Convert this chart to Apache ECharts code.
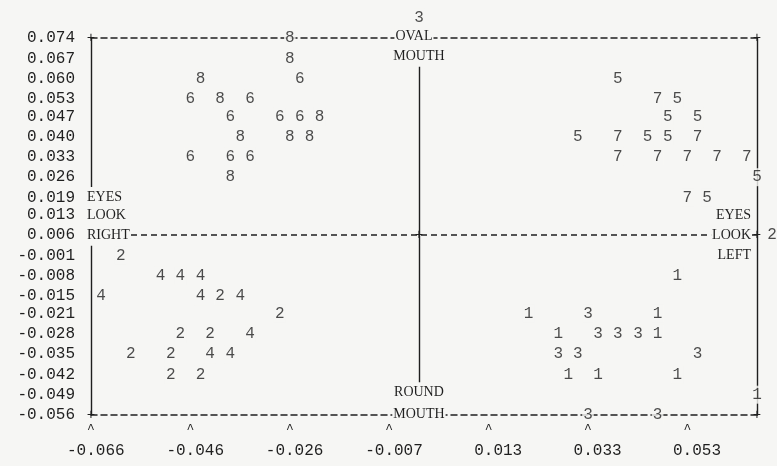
<!DOCTYPE html>
<html>
<head>
<meta charset="utf-8">
<script src="https://cdn.jsdelivr.net/npm/echarts@6/dist/echarts.min.js"></script>
<style>
  html, body { margin: 0; padding: 0; background: #f6f6f4; }
  #chart { width: 777px; height: 466px; }
</style>
</head>
<body>
<div id="chart"></div>
<script>
// ---- axis ticks ----
const xTickValues = [-0.066, -0.0463, -0.0266, -0.0069, 0.0128, 0.0325, 0.0522];
const xTickLabels = ['-0.066', '-0.046', '-0.026', '-0.007', '0.013', '0.033', '0.053'];
const yTickLabels = ['0.074', '0.067', '0.060', '0.053', '0.047', '0.040', '0.033', '0.026', '0.019', '0.013',
                     '0.006', '-0.001', '-0.008', '-0.015', '-0.021', '-0.028', '-0.035', '-0.042', '-0.049', '-0.056'];
const xMin = -0.066, xMax = 0.066;
const yMin = -0.056, yMax = 0.074;

// ---- plotted groups (symbol = group digit) ----
const group1 = [[0.0502, -0.008], [0.0207, -0.021], [0.0463, -0.021], [0.0266, -0.028], [0.0463, -0.028],
                [0.0286, -0.042], [0.0345, -0.042], [0.0502, -0.042], [0.0660, -0.049]];
const group2 = [[-0.0601, -0.001], [-0.0404, -0.015], [-0.0286, -0.021], [-0.0483, -0.028], [-0.0424, -0.028],
                [-0.0581, -0.035], [-0.0502, -0.035], [-0.0502, -0.042], [-0.0443, -0.042], [0.0690, 0.006]];
const group3 = [[-0.0010, 0.081], [0.0325, -0.021], [0.0345, -0.028], [0.0384, -0.028], [0.0424, -0.028],
                [0.0266, -0.035], [0.0305, -0.035], [0.0542, -0.035], [0.0325, -0.056], [0.0463, -0.056]];
const group4 = [[-0.0522, -0.008], [-0.0483, -0.008], [-0.0443, -0.008], [-0.0640, -0.015], [-0.0443, -0.015],
                [-0.0364, -0.015], [-0.0345, -0.028], [-0.0424, -0.035], [-0.0384, -0.035]];
const group5 = [[0.0384, 0.060], [0.0502, 0.053], [0.0483, 0.047], [0.0542, 0.047], [0.0305, 0.040],
                [0.0443, 0.040], [0.0483, 0.040], [0.0660, 0.026], [0.0561, 0.019]];
const group6 = [[-0.0246, 0.060], [-0.0463, 0.053], [-0.0345, 0.053], [-0.0384, 0.047], [-0.0286, 0.047],
                [-0.0246, 0.047], [-0.0463, 0.033], [-0.0384, 0.033], [-0.0345, 0.033]];
const group7 = [[0.0463, 0.053], [0.0384, 0.040], [0.0542, 0.040], [0.0384, 0.033], [0.0463, 0.033],
                [0.0522, 0.033], [0.0581, 0.033], [0.0640, 0.033], [0.0522, 0.019]];
const group8 = [[-0.0266, 0.074], [-0.0266, 0.067], [-0.0443, 0.060], [-0.0404, 0.053], [-0.0207, 0.047],
                [-0.0364, 0.040], [-0.0266, 0.040], [-0.0227, 0.040], [-0.0384, 0.026]];
const groups = [['1', group1], ['2', group2], ['3', group3], ['4', group4],
                ['5', group5], ['6', group6], ['7', group7], ['8', group8]];

// reference lines
const hRef = 0.006;
const vRef = -0.001;

const ink = '#1f1f1f';
const bg = '#f6f6f4';
const mono = 'Liberation Mono';
const serif = 'Liberation Serif';

function padLabel(s) {
  const L = s.indexOf('.');
  const R = s.length - L - 1;
  return ' '.repeat(Math.max(0, R - L)) + s;
}
function nearestIdx(arr, v) {
  let best = 0, bd = Infinity;
  arr.forEach((a, i) => { const d = Math.abs(a - v); if (d < bd) { bd = d; best = i; } });
  return best;
}

const digitSeries = groups.map(([name, data]) => ({
  type: 'scatter',
  name: name,
  data: data,
  symbol: 'circle',
  symbolSize: 1,
  clip: false,
  silent: true,
  z: 5,
  itemStyle: { color: 'rgba(0,0,0,0)' },
  emphasis: { disabled: true },
  label: {
    show: true, position: 'inside', formatter: name,
    fontFamily: mono, fontSize: 16, color: ink,
    backgroundColor: bg, padding: [1, 1], lineHeight: 16
  }
}));

const serifLabel = { show: true, fontFamily: serif, fontSize: 14, color: ink, backgroundColor: bg,
                     padding: [4, 1], lineHeight: 13, formatter: p => p.name };

const annotations = [
  { name: 'EYES', coord: [xMin, 0.019], label: { position: 'right', distance: -5 } },
  { name: 'LOOK', coord: [xMin, 0.013], label: { position: 'right', distance: -5 } },
  { name: 'RIGHT', coord: [xMin, 0.006], label: { position: 'right', distance: -5 } },
  { name: 'EYES', coord: [xMax, 0.013], label: { position: 'left', distance: 5 } },
  { name: 'LOOK', coord: [xMax, 0.006], label: { position: 'left', distance: 5 } },
  { name: 'LEFT', coord: [xMax, -0.001], label: { position: 'left', distance: 5 } },
  { name: 'OVAL', coord: [vRef, 0.074], label: { position: 'inside', offset: [-5, -2] } },
  { name: 'MOUTH', coord: [vRef, 0.067], label: { position: 'inside', offset: [0, -2] } },
  { name: 'ROUND', coord: [vRef, -0.049], label: { position: 'inside', offset: [0, -2] } },
  { name: 'MOUTH', coord: [vRef, -0.056], label: { position: 'inside', offset: [0, -1] } }
];
const plusMarks = [[xMin, yMax], [xMax, yMax], [xMin, yMin], [xMax, yMin], [vRef, hRef], [xMax, hRef]]
  .map(c => ({ name: '+', coord: c }));

const frameSeries = {
  type: 'scatter',
  data: [],
  z: 3,
  silent: true,
  markLine: {
    silent: true, symbol: 'none', animation: false,
    label: { show: false },
    data: [
      [{ coord: [xMin, hRef], lineStyle: { type: [6, 4], width: 1.5, color: ink } }, { coord: [xMax, hRef] }],
      [{ coord: [vRef, 0.067], lineStyle: { type: 'solid', width: 1.4, color: ink } }, { coord: [vRef, -0.049] }]
    ]
  },
  markPoint: {
    silent: true, animation: false,
    symbol: 'circle', symbolSize: 0,
    label: serifLabel,
    data: annotations
  }
};
const plusSeries = {
  type: 'scatter', data: [], z: 4, silent: true,
  markPoint: {
    silent: true, animation: false, symbol: 'circle', symbolSize: 0,
    label: { show: true, position: 'inside', fontFamily: mono, fontSize: 14, color: ink, formatter: '+' },
    data: plusMarks
  }
};

const chart = echarts.init(document.getElementById('chart'), null, { renderer: 'canvas' });
chart.setOption({
  backgroundColor: bg,
  animation: false,
  grid: { left: 91, right: 20, top: 38, bottom: 51, containLabel: false, outerBoundsMode: 'none' },
  xAxis: [
    {
      type: 'value', position: 'bottom', min: xMin, max: xMax,
      axisLine: { show: true, onZero: false, lineStyle: { color: ink, width: 1.5, type: [6, 4] } },
      axisTick: { show: false },
      splitLine: { show: false },
      axisLabel: {
        show: true, customValues: xTickValues, margin: 5,
        formatter: (v) => '{t|^}\n{l|' + padLabel(xTickLabels[nearestIdx(xTickValues, v)]) + '}',
        rich: {
          t: { fontFamily: mono, fontSize: 13, color: ink, lineHeight: 20, align: 'center' },
          l: { fontFamily: mono, fontSize: 16, color: ink, lineHeight: 22, align: 'center' }
        }
      }
    },
    {
      type: 'value', position: 'top', min: xMin, max: xMax,
      axisLine: { show: true, onZero: false, lineStyle: { color: ink, width: 1.5, type: [6, 4] } },
      axisTick: { show: false }, axisLabel: { show: false }, splitLine: { show: false }
    }
  ],
  yAxis: [
    {
      type: 'value', position: 'left', min: yMin, max: yMax,
      axisLine: { show: true, onZero: false, lineStyle: { color: ink, width: 1.4 } },
      axisTick: { show: false },
      splitLine: { show: false },
      axisLabel: {
        show: true, customValues: yTickLabels.map(Number), margin: 16,
        fontFamily: mono, fontSize: 16, color: ink,
        formatter: (v) => yTickLabels[nearestIdx(yTickLabels.map(Number), v)]
      }
    },
    {
      type: 'value', position: 'right', min: yMin, max: yMax,
      axisLine: { show: true, onZero: false, lineStyle: { color: ink, width: 1.4 } },
      axisTick: { show: false }, axisLabel: { show: false }, splitLine: { show: false }
    }
  ],
  series: [frameSeries, plusSeries].concat(digitSeries)
});
</script>
</body>
</html>
